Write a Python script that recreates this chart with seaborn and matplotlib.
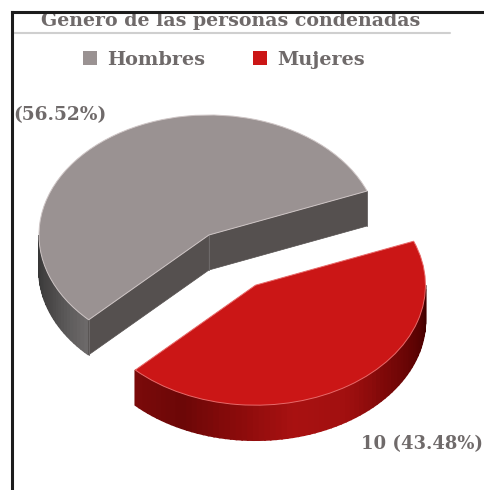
import matplotlib
matplotlib.use("Agg")
import matplotlib.pyplot as plt
import numpy as np
import seaborn as sns

generos = ["Hombres", "Mujeres"]
condenas = [13, 10]
etiquetas = ["(56.52%)", "10 (43.48%)"]
titulo = "Género de las personas condenadas"
colores = ["#9a9292", "#cb1616"]

W, H = 484, 490
RX, RY = 170.0, 120.0          # pixels per pie unit
CX, CY = 209.0, 235.0          # pie centre, pixels
DEPTH = 35.0 / RY
START = 21.5
EXPLODE = [0.0, 0.5]
L, T = 11.5, 12.5              # frame position, pixels
TXT = "#6f6a6a"
SERIF = "DejaVu Serif"

sns.set_theme(style="white")
plt.rcParams["font.family"] = [SERIF, "DejaVu Sans"]

fig = plt.figure(figsize=(W / 100, H / 100), dpi=100)
ax = fig.add_axes([L / W, 0, 1 - L / W + 0.01, 1 - T / H])


def ux(px):
    return px / RX


def uy(py):
    return (H - py) / RY


c0 = np.array([ux(CX), uy(CY)])
frac = np.array(condenas) / np.sum(condenas)
edges = START + 360 * np.concatenate([[0], np.cumsum(frac)])
mids = (edges[:-1] + edges[1:]) / 2
centres = [c0 + e * np.array([np.cos(np.radians(m)), np.sin(np.radians(m))])
           for e, m in zip(EXPLODE, mids)]


def wall(c, t0, t1, palette, n):
    ts = np.linspace(t0, t1, n + 1)
    for a, b, col in zip(ts[:-1], ts[1:], palette):
        tt = np.radians([a, b])
        xs = c[0] + np.cos(tt)
        ys = c[1] + np.sin(tt)
        ax.fill([xs[0], xs[1], xs[1], xs[0]],
                [ys[0], ys[1], ys[1] - DEPTH, ys[0] - DEPTH],
                color=col, lw=1.2, zorder=1)


def face(c, t):
    tr = np.radians(t)
    p = c + np.array([np.cos(tr), np.sin(tr)])
    ax.fill([c[0], p[0], p[0], c[0]],
            [c[1], p[1], p[1] - DEPTH, c[1] - DEPTH],
            color="#55504f", lw=0.5, zorder=1.5)
    ax.plot([p[0], p[0]], [p[1], p[1] - DEPTH], color="#6e6a6a", lw=0.7, zorder=1.6)


# gray side
n = 24
wall(centres[0], 180, edges[1], sns.blend_palette(["#333333", "#4a4848", "#6c6969"], n), n)
face(centres[0], edges[0])
face(centres[0], edges[1])
ax.plot([centres[0][0]] * 2, [centres[0][1], centres[0][1] - DEPTH],
        color="#6e6a6a", lw=0.7, zorder=1.6)

# red side
n = 70
wall(centres[1], edges[1], 360,
     sns.blend_palette(["#7a0a0a", "#6c0707", "#8a0b0b", "#a81111", "#a21010",
                        "#7c0808", "#5e0303", "#440000"], n), n)

wedges, _ = ax.pie(condenas, colors=colores, startangle=START, explode=EXPLODE,
                   center=tuple(c0), radius=1,
                   wedgeprops={"lw": 0.7, "edgecolor": "#cfc6c6", "zorder": 2})
wedges[1].set_edgecolor("#e86a6a")

ax.set_aspect("auto")
ax.set_frame_on(True)
ax.set_xlim(ux(L), ux(W + 5))
ax.set_ylim(uy(H), uy(T))
for s in ["right", "bottom"]:
    ax.spines[s].set_visible(False)
for s in ["left", "top"]:
    ax.spines[s].set_visible(True)
    ax.spines[s].set_color("#1c1c1c")
    ax.spines[s].set_linewidth(2.2)
    ax.spines[s].set_zorder(6)

ax.text(ux(231), uy(20.5), titulo, ha="center", va="center", fontsize=13.7,
        fontweight="bold", color=TXT, clip_on=True)
ax.plot([ux(L), ux(450)], [uy(33.5), uy(33.5)], color="#cfcfcf", lw=1.5, zorder=3)

leg = ax.legend(wedges, generos, ncol=2, frameon=False, loc="center",
                bbox_to_anchor=(224 / W, 1 - 60 / H), bbox_transform=fig.transFigure,
                handlelength=0.72, handleheight=0.72, handletextpad=0.52,
                columnspacing=2.5, labelcolor=TXT,
                prop={"family": SERIF, "weight": "bold", "size": 13.9})
for h in leg.legend_handles:
    h.set_edgecolor("none")

ax.text(ux(13), uy(115), etiquetas[0], ha="left", va="center", fontsize=13.4,
        fontweight="bold", color=TXT, clip_on=True)
ax.text(ux(361), uy(444), etiquetas[1], ha="left", va="center", fontsize=13.0,
        fontweight="bold", color=TXT, clip_on=True)

fig.savefig("out.png", dpi=100, facecolor="white")
